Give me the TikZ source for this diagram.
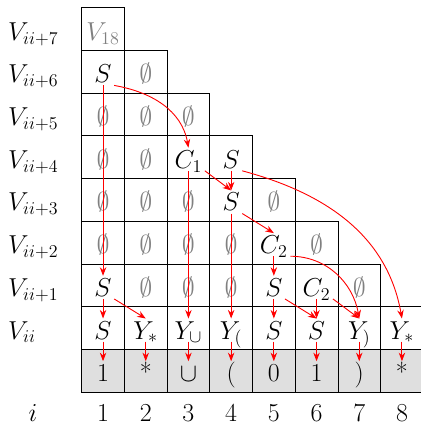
\documentclass[tikz,border=0pt]{standalone}
\usepackage{tikz}
\usetikzlibrary{arrows.meta}

\begin{document}
\begin{tikzpicture}[>=Stealth,
  sym/.style={font=\LARGE,inner sep=1.5pt,text height=12pt,text depth=0pt},
  empty/.style={sym,text=gray},
  link/.style={->,red,line width=.6pt}]
  \useasboundingbox (-1.913,-0.773) rectangle (7.923,9.18);
  \foreach \c in {1,...,8}
    \draw[fill=gray!25] (\c-1,0) rectangle (\c,1);
  \foreach \r in {1,...,8}{
    \pgfmathtruncatemacro\m{9-\r}
    \foreach \c in {1,...,\m}
      \draw (\c-1,\r) rectangle (\c,\r+1);
  }
  \node[sym,anchor=west] (l0) at (-1.78,1.45) {$V_{ii}$};
  \foreach \k in {1,...,7}
    \node[sym,anchor=west] (l\k) at (-1.78,\k+1.45) {$V_{ii+\k}$};
  \node[sym] (li) at (-1.14,-.49) {$i$};
  \foreach \c in {1,...,8}
    \node[sym] (n\c) at (\c-.5,-.49) {$\c$};
  \foreach \c/\r in {2/7,1/6,2/6,3/6,1/5,2/5,1/4,2/4,3/4,5/4,1/3,2/3,3/3,4/3,6/3,2/2,3/2,4/2,7/2}
    \node[empty] (e\c\r) at (\c-.5,\r+.45) {$\emptyset$};
  \node[empty] (v18) at (.5,8.45) {$V_{18}$};
  \node[sym] (s61) at (.5,7.45) {$S$};
  \node[sym] (c43) at (2.5,5.45) {$C_1$};
  \node[sym] (s44) at (3.5,5.45) {$S$};
  \node[sym] (s34) at (3.5,4.45) {$S$};
  \node[sym] (c25) at (4.5,3.45) {$C_2$};
  \node[sym] (s11) at (.5,2.45) {$S$};
  \node[sym] (s15) at (4.5,2.45) {$S$};
  \node[sym] (c16) at (5.5,2.45) {$C_2$};
  \node[sym] (r1) at (.5,1.45) {$S$};
  \node[sym] (r2) at (1.5,1.45) {$Y_*$};
  \node[sym] (r3) at (2.5,1.45) {$Y_\cup$};
  \node[sym] (r4) at (3.5,1.45) {$Y_($};
  \node[sym] (r5) at (4.5,1.45) {$S$};
  \node[sym] (r6) at (5.5,1.45) {$S$};
  \node[sym] (r7) at (6.5,1.45) {$Y_)$};
  \node[sym] (r8) at (7.5,1.45) {$Y_*$};
  \node[sym] (g1) at (.5,.45) {1};
  \node[sym] (g2) at (1.5,.45) {*};
  \node[sym] (g3) at (2.5,.45) {$\cup$};
  \node[sym] (g4) at (3.5,.45) {(};
  \node[sym] (g5) at (4.5,.45) {0};
  \node[sym] (g6) at (5.5,.45) {1};
  \node[sym] (g7) at (6.5,.45) {)};
  \node[sym] (g8) at (7.5,.45) {*};
  \draw[link] (s61) -- (s11);
  \draw[link] (s61.south east) to[out=-10,in=100] (c43.north);
  \draw[link] (s11) -- (r1);
  \draw[link] (s11.south east) -- (r2.north);
  \draw[link] (c43) -- (r3);
  \draw[link] (c43.south east) -- (s34.north);
  \draw[link] (s44) -- (s34);
  \draw[link] (s44.south east) to[out=-15,in=100] (r8.north);
  \draw[link] (s34) -- (r4);
  \draw[link] (s34.south east) -- (c25.north);
  \draw[link] (c25) -- (s15);
  \draw[link] (c25.south east) to[out=0,in=100] (r7.north);
  \draw[link] (s15) -- (r5);
  \draw[link] (s15.south east) -- (r6.north);
  \draw[link] (c16) -- (r6);
  \draw[link] (c16.south east) -- (r7.north);
  \foreach \c in {1,...,8}
    \draw[link] (r\c) -- (g\c);
\end{tikzpicture}
\end{document}
